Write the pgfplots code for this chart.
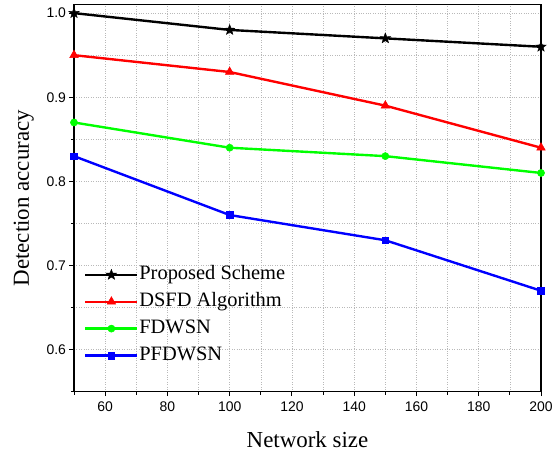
\documentclass[border=0pt]{standalone}
\usepackage{pgfplots}
\pgfplotsset{compat=1.18}
\usepackage{fontspec}
\setmainfont{Liberation Serif}
\newfontfamily\arialf{Liberation Sans}
\pgfdeclareplotmark{fstar}{%
  \pgfpathmoveto{\pgfpointpolar{90}{\pgfplotmarksize}}%
  \pgfpathlineto{\pgfpointpolar{126}{0.42\pgfplotmarksize}}%
  \pgfpathlineto{\pgfpointpolar{162}{\pgfplotmarksize}}%
  \pgfpathlineto{\pgfpointpolar{198}{0.42\pgfplotmarksize}}%
  \pgfpathlineto{\pgfpointpolar{234}{\pgfplotmarksize}}%
  \pgfpathlineto{\pgfpointpolar{270}{0.42\pgfplotmarksize}}%
  \pgfpathlineto{\pgfpointpolar{306}{\pgfplotmarksize}}%
  \pgfpathlineto{\pgfpointpolar{342}{0.42\pgfplotmarksize}}%
  \pgfpathlineto{\pgfpointpolar{18}{\pgfplotmarksize}}%
  \pgfpathlineto{\pgfpointpolar{54}{0.42\pgfplotmarksize}}%
  \pgfpathclose\pgfusepathqfillstroke}
\begin{document}
\begin{tikzpicture}
\useasboundingbox (-74bp,-66bp) rectangle (479bp,391.7bp);
\begin{axis}[
  at={(0,0)}, anchor=south west,
  scale only axis, width=467bp, height=387bp,
  xmin=50, xmax=200, ymin=0.55, ymax=1.010,
  xtick={60,80,...,200}, minor xtick={50,70,...,190},
  ytick={0.6,0.7,0.8,0.9,1.0}, minor ytick={0.55,0.65,...,0.95},
  yticklabel style={/pgf/number format/fixed,/pgf/number format/fixed zerofill,/pgf/number format/precision=1},
  /pgf/number format/assume math mode=true,
  ticklabel style={font=\arialf\fontsize{14}{16}\selectfont},
  xticklabel style={yshift=-2bp},
  tick align=outside, tick pos=left,
  major tick length=4.5bp, minor tick length=3bp,
  every tick/.style={black, line width=1pt},
  axis line style={line width=1.3pt},
  grid=both,
  major grid style={gray!55, dotted, line width=0.6pt},
  minor grid style={gray!55, dotted, line width=0.6pt},
  xlabel={Network size}, ylabel={Detection accuracy},
  label style={font=\fontsize{23}{25}\selectfont},
  xlabel style={yshift=-13bp},
  ylabel style={yshift=6bp},
  legend style={at={(0.015,0.333)}, anchor=north west, draw=none, fill=none,
    font=\fontsize{20.5}{20.5}\selectfont, row sep=7.3bp,
    nodes={inner sep=0.8bp, text height=14bp, text depth=4bp}},
  legend cell align=left,
  legend image code/.code={\draw[mark repeat=2,mark phase=2] plot coordinates {(0bp,0bp) (26bp,0bp) (52bp,0bp)};},
  every axis plot/.append style={line width=2.4pt},
]
\addplot[black, mark=fstar, mark size=5.5pt, mark options={line width=0.4pt}] coordinates {(50,1.0) (100,0.98) (150,0.97) (200,0.96)};
\addlegendentry{Proposed Scheme}
\addplot[red, mark=triangle*, mark size=5pt, mark options={line width=0.5pt}] coordinates {(50,0.95) (100,0.93) (150,0.89) (200,0.84)};
\addlegendentry{DSFD Algorithm}
\addplot[green, mark=*, mark size=3.6pt, mark options={line width=0.5pt}] coordinates {(50,0.87) (100,0.84) (150,0.83) (200,0.81)};
\addlegendentry{FDWSN}
\addplot[blue, mark=square*, mark size=3.3pt, mark options={line width=0.5pt}] coordinates {(50,0.83) (100,0.76) (150,0.73) (200,0.67)};
\addlegendentry{PFDWSN}
\end{axis}
\end{tikzpicture}
\end{document}
